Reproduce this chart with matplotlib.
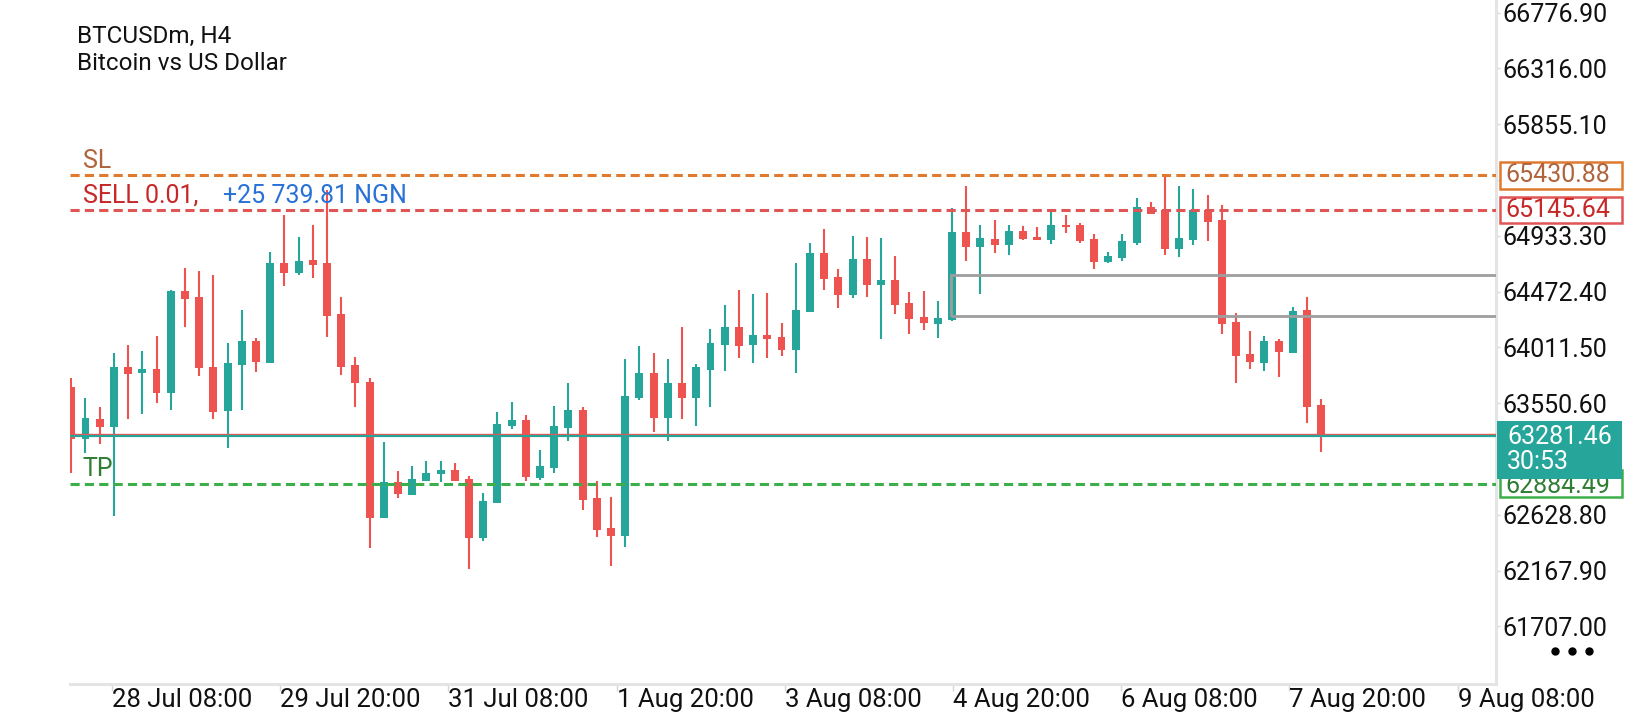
import matplotlib
matplotlib.use("Agg")
import matplotlib.pyplot as plt
import matplotlib.transforms as mtransforms
from matplotlib.patches import Rectangle
from matplotlib.lines import Line2D
import numpy as np

plt.rcParams["font.family"] = ["Roboto", "DejaVu Sans"]

# BTCUSDm H4 candles, oldest first
opens = [63681, 63252, 63419, 63356, 63851, 63802, 63832, 63637, 64479, 64427,
         63849, 63488, 63868, 64064, 63882, 64708, 64623, 64733, 64708, 64284,
         63865, 63727, 62604, 62896, 62794, 62910, 62965, 62998, 62924, 62439,
         62728, 63364, 63411, 62929, 63017, 63347, 63494, 62764, 62521, 62455,
         63595, 63799, 63430, 63717, 63595, 63827, 64033, 64179, 64033, 64113,
         64097, 63992, 64306, 64790, 64592, 64444, 64741, 64529, 64567, 64375,
         64262, 64206, 64240, 64964, 64843, 64906, 64859, 64972, 64923, 64898,
         65022, 65022, 64906, 64719, 64749, 64873, 65170, 65146, 64824, 64898,
         65146, 65063, 64221, 63956, 63884, 64064, 63967, 64320, 63535]
highs = [63755, 63590, 63516, 63962, 64028, 63981, 64105, 64485, 64667, 64642,
         64606, 64045, 64320, 64086, 64796, 65104, 64920, 65022, 65311, 64425,
         63931, 63755, 63227, 62990, 63031, 63072, 63072, 63053, 62948, 62806,
         63475, 63560, 63450, 63163, 63527, 63719, 63516, 62907, 62778, 63915,
         64022, 63962, 63915, 64179, 63874, 64163, 64361, 64485, 64452, 64460,
         64212, 64708, 64873, 64989, 64658, 64931, 64923, 64914, 64766, 64466,
         64477, 64394, 65160, 65344, 65022, 65063, 65019, 65013, 65005, 65140,
         65104, 65038, 64947, 64799, 64947, 65245, 65212, 65435, 65344, 65319,
         65270, 65187, 64291, 64146, 64102, 64078, 64342, 64425, 63582]
lows = [62976, 63136, 63210, 62618, 63419, 63463, 63554, 63494, 64182, 63777,
        63419, 63177, 63494, 63810, 63882, 64518, 64611, 64586, 64094, 63785,
        63521, 62351, 62604, 62764, 62794, 62910, 62901, 62910, 62180, 62414,
        62728, 63334, 62910, 62915, 62976, 63238, 62668, 62447, 62205, 62362,
        63576, 63314, 63238, 63419, 63364, 63521, 63818, 63926, 63884, 63926,
        63942, 63802, 64306, 64485, 64339, 64421, 64430, 64083, 64289, 64124,
        64157, 64091, 64231, 64727, 64454, 64793, 64776, 64898, 64900, 64867,
        64953, 64876, 64661, 64710, 64727, 64857, 65113, 64774, 64760, 64859,
        64892, 64124, 63719, 63835, 63816, 63769, 63962, 63384, 63149]
closes = [63252, 63425, 63356, 63846, 63791, 63832, 63637, 64479, 64411, 63843,
          63480, 63882, 64064, 63890, 64708, 64628, 64724, 64694, 64273, 63851,
          63714, 62604, 62896, 62800, 62921, 62971, 62998, 62910, 62439, 62742,
          63376, 63411, 62943, 63031, 63361, 63494, 62750, 62502, 62455, 63609,
          63799, 63430, 63717, 63595, 63849, 64047, 64179, 64025, 64113, 64080,
          63992, 64320, 64790, 64576, 64446, 64741, 64529, 64567, 64361, 64248,
          64215, 64254, 64964, 64843, 64912, 64859, 64972, 64906, 64900, 65022,
          65005, 64890, 64719, 64766, 64892, 65170, 65113, 64824, 64914, 65146,
          65047, 64206, 63942, 63888, 64064, 63970, 64314, 63521, 63281.46]

price_ticks = [61707.00, 62167.90, 62628.80, 63089.70, 63550.60, 64011.50,
               64472.40, 64933.30, 65394.20, 65855.10, 66316.00, 66776.90]
hidden_ticks = [63089.70, 65394.20]  # covered by the price boxes
time_labels = ["28 Jul 08:00", "29 Jul 20:00", "31 Jul 08:00", "1 Aug 20:00",
               "3 Aug 08:00", "4 Aug 20:00", "6 Aug 08:00", "7 Aug 20:00",
               "9 Aug 08:00"]

sl_price = 65430.88
entry_price = 65145.64
tp_price = 62884.49
bid_price = 63281.46
ask_price = 63294.0
zone_top, zone_bottom, zone_start = 64606, 64270, 61.9

TEAL = "#26a69a"
RED = "#ef5350"
ORANGE = "#e07a2e"
BROWN = "#b0643c"
DARK_RED = "#c62828"
ENTRY_RED = "#e05555"
GREEN = "#3cae4a"
DARK_GREEN = "#2e7d32"
BLUE = "#2871d6"
AXIS_GRAY = "#e4e4e4"

W, H = 1640, 720
fig = plt.figure(figsize=(W / 100, H / 100), dpi=100)
ax = fig.add_axes([70 / W, (H - 684) / H, (1496 - 70) / W, 684 / H])
ax.set_xlim(-0.09, 100.3)
ax.set_ylim(61230.4, 66880.2)
ppx = (66880.2 - 61230.4) / 684  # price per pixel

# candles
o, h, l, c = map(np.asarray, (opens, highs, lows, closes))
x = np.arange(len(o))
cols = np.where(c >= o, TEAL, RED)
ax.vlines(x, l, h, colors=cols, lw=1.5, zorder=3)
ax.bar(x, np.maximum(np.abs(c - o), 12), bottom=np.minimum(o, c), width=0.56,
       color=cols, lw=0, zorder=4)

# trade levels
dash = dict(lw=2.2, dashes=(3, 1.7), zorder=5)
ax.axhline(sl_price, color=ORANGE, **dash)
ax.axhline(entry_price, color=ENTRY_RED, **dash)
ax.axhline(tp_price, color=GREEN, **dash)
ax.axhline(ask_price, color=RED, lw=1, zorder=5)
ax.axhline(bid_price, color=TEAL, lw=1.6, zorder=5)

ax.add_patch(Rectangle((zone_start, zone_bottom), 200, zone_top - zone_bottom,
                       fill=False, ec="#9e9e9e", lw=2, zorder=6))

# level captions
ytf = ax.get_yaxis_transform()
lx = (82.7 - 70) / 1426
fs = 18
ax.annotate("SL", (lx, sl_price), xycoords=ytf, xytext=(0, 7),
            textcoords="offset pixels", va="baseline", color=BROWN, fontsize=fs)
ax.annotate("SELL 0.01,", (lx, entry_price), xycoords=ytf, xytext=(0, 7),
            textcoords="offset pixels", va="baseline", color=DARK_RED, fontsize=fs)
ax.annotate("+25 739.81 NGN", ((222.7 - 70) / 1426, entry_price), xycoords=ytf,
            xytext=(0, 7), textcoords="offset pixels", va="baseline",
            color=BLUE, fontsize=fs)
ax.annotate("TP", (lx, tp_price), xycoords=ytf, xytext=(0, 8),
            textcoords="offset pixels", va="baseline", color=DARK_GREEN, fontsize=fs)

# axes styling
for s in ["top", "left"]:
    ax.spines[s].set_visible(False)
for s in ["bottom", "right"]:
    ax.spines[s].set_color(AXIS_GRAY)
    ax.spines[s].set_linewidth(2.2)

ax.yaxis.tick_right()
ax.set_yticks(price_ticks, labels=["" if p in hidden_ticks else f"{p:.2f}"
                                   for p in price_ticks])
ax.tick_params(axis="y", length=3, width=1, color="#d6d6d6", pad=1.5,
               labelsize=fs, labelcolor="#111111")

tick_pos = 2.87 + 11.84 * np.arange(len(time_labels))
ax.set_xticks(tick_pos, labels=time_labels)
ax.tick_params(axis="x", length=5, width=1, color="#d6d6d6", pad=6.5,
               labelsize=18.5, labelcolor="#111111")
for t in ax.get_xticklabels():
    t.set_ha("left")
    t.set_va("center")

# price boxes on the right scale
btf = mtransforms.blended_transform_factory(fig.transFigure, ax.transData)


def price_box(price, label, fc, ec, tc, x0=1500, h_px=27, text_dy=0, z=7):
    ax.add_patch(Rectangle((x0 / W, price - h_px / 2 * ppx), (1622 - x0) / W,
                           h_px * ppx, transform=btf, fc=fc, ec=ec, lw=1.8,
                           clip_on=False, zorder=z))
    ax.text(1505 / W, price - text_dy * ppx, label, transform=btf, va="center",
            ha="left", color=tc, fontsize=fs, clip_on=False, zorder=z + 0.5)


price_box(sl_price, f"{sl_price:.2f}", "white", ORANGE, BROWN)
price_box(entry_price, f"{entry_price:.2f}", "white", ENTRY_RED, DARK_RED, h_px=26)
price_box(tp_price, f"{tp_price:.2f}", "white", GREEN, DARK_GREEN, text_dy=2.5)

# bid box with countdown
ax.add_patch(Rectangle((1497 / W, bid_price - 43 * ppx), (1622 - 1497) / W,
                       57.5 * ppx, transform=btf, fc=TEAL, ec=TEAL, lw=0,
                       clip_on=False, zorder=9))
ax.text(1507 / W, bid_price - 1 * ppx, f"{bid_price:.2f}", transform=btf,
        va="center", ha="left", color="white", fontsize=fs, clip_on=False, zorder=10)
ax.text(1507 / W, bid_price - 26 * ppx, "30:53", transform=btf,
        va="center", ha="left", color="white", fontsize=fs, clip_on=False, zorder=10)

# header
fig.text(76.7 / W, 1 - 42.7 / H, "BTCUSDm, H4", fontsize=17.5, color="#111111",
         va="baseline")
fig.text(76.7 / W, 1 - 70 / H, "Bitcoin vs US Dollar", fontsize=17.5,
         color="#111111", va="baseline")

fig.add_artist(Line2D([1555 / W, 1572 / W, 1589 / W], [1 - 651 / H] * 3,
                      transform=fig.transFigure, ls="none", marker="o",
                      ms=5, color="black"))

fig.savefig("out.png", dpi=100, facecolor="white")
